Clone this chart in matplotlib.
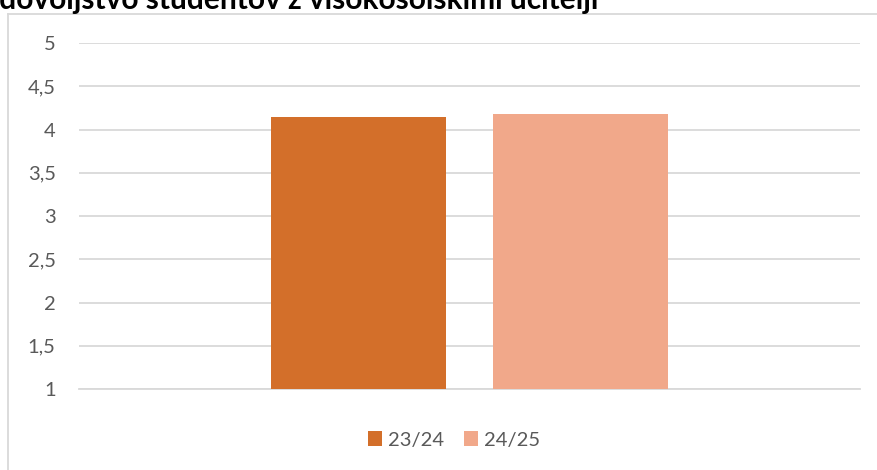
import matplotlib
matplotlib.use("Agg")
import matplotlib.pyplot as plt
from matplotlib.lines import Line2D
from matplotlib.patches import Patch

title = "Zadovoljstvo študentov z visokošolskimi učitelji"
series = ["23/24", "24/25"]
values = [4.15, 4.18]
colors = ["#D36F2A", "#F1A88A"]
yticks = [1, 1.5, 2, 2.5, 3, 3.5, 4, 4.5, 5]
ytick_labels = ["1", "1,5", "2", "2,5", "3", "3,5", "4", "4,5", "5"]

W, H = 877, 470
fig = plt.figure(figsize=(W / 100, H / 100), dpi=100)
plt.rcParams['font.family'] = ['Lato', 'DejaVu Sans']

ax = fig.add_axes([79 / W, 1 - 389 / H, (860 - 79) / W, (389 - 43) / H])
offsets = [-0.142, 0.142]
width = 0.225
for s, v, c, o in zip(series, values, colors, offsets):
    ax.bar(o, v - 1, bottom=1, width=width, color=c, zorder=3)

ax.set_xlim(-0.5, 0.5)
ax.set_ylim(1, 5)
ax.set_yticks(yticks)
ax.set_yticklabels(ytick_labels, fontsize=14.5, color="#595959")
ax.set_xticks([])
ax.tick_params(axis="y", length=0, pad=16.8)
ax.grid(axis="y", color="#d9d9d9", linewidth=1.3, zorder=0)
ax.set_axisbelow(True)
for sp in ["top", "right", "left"]:
    ax.spines[sp].set_visible(False)
ax.spines["bottom"].set_color("#d9d9d9")
ax.spines["bottom"].set_linewidth(1.3)
ax.spines["bottom"].set_zorder(0)

# chart border
fig.add_artist(Line2D([8 / W, 8 / W], [0, 1 - 14 / H], color="#d9d9d9", linewidth=1.3))
fig.add_artist(Line2D([8 / W, 1], [1 - 14 / H, 1 - 14 / H], color="#d9d9d9", linewidth=1.3))

# title (cut off at the top-left, as in reference)
fig.text(-34 / W, 1 - 9 / H, title, fontsize=21.5, fontweight="bold", color="#000000",
         ha="left", va="baseline")

handles = [Patch(facecolor=c, edgecolor="none") for c in colors]
fig.legend(handles, series, loc="center", bbox_to_anchor=(454 / W, 1 - 440 / H), ncol=2,
           frameon=False, fontsize=14.5, labelcolor="#595959", handlelength=0.7,
           handleheight=0.7, handletextpad=0.3, columnspacing=1.0,
           borderpad=0, borderaxespad=0)

fig.savefig("out.png", dpi=100)
